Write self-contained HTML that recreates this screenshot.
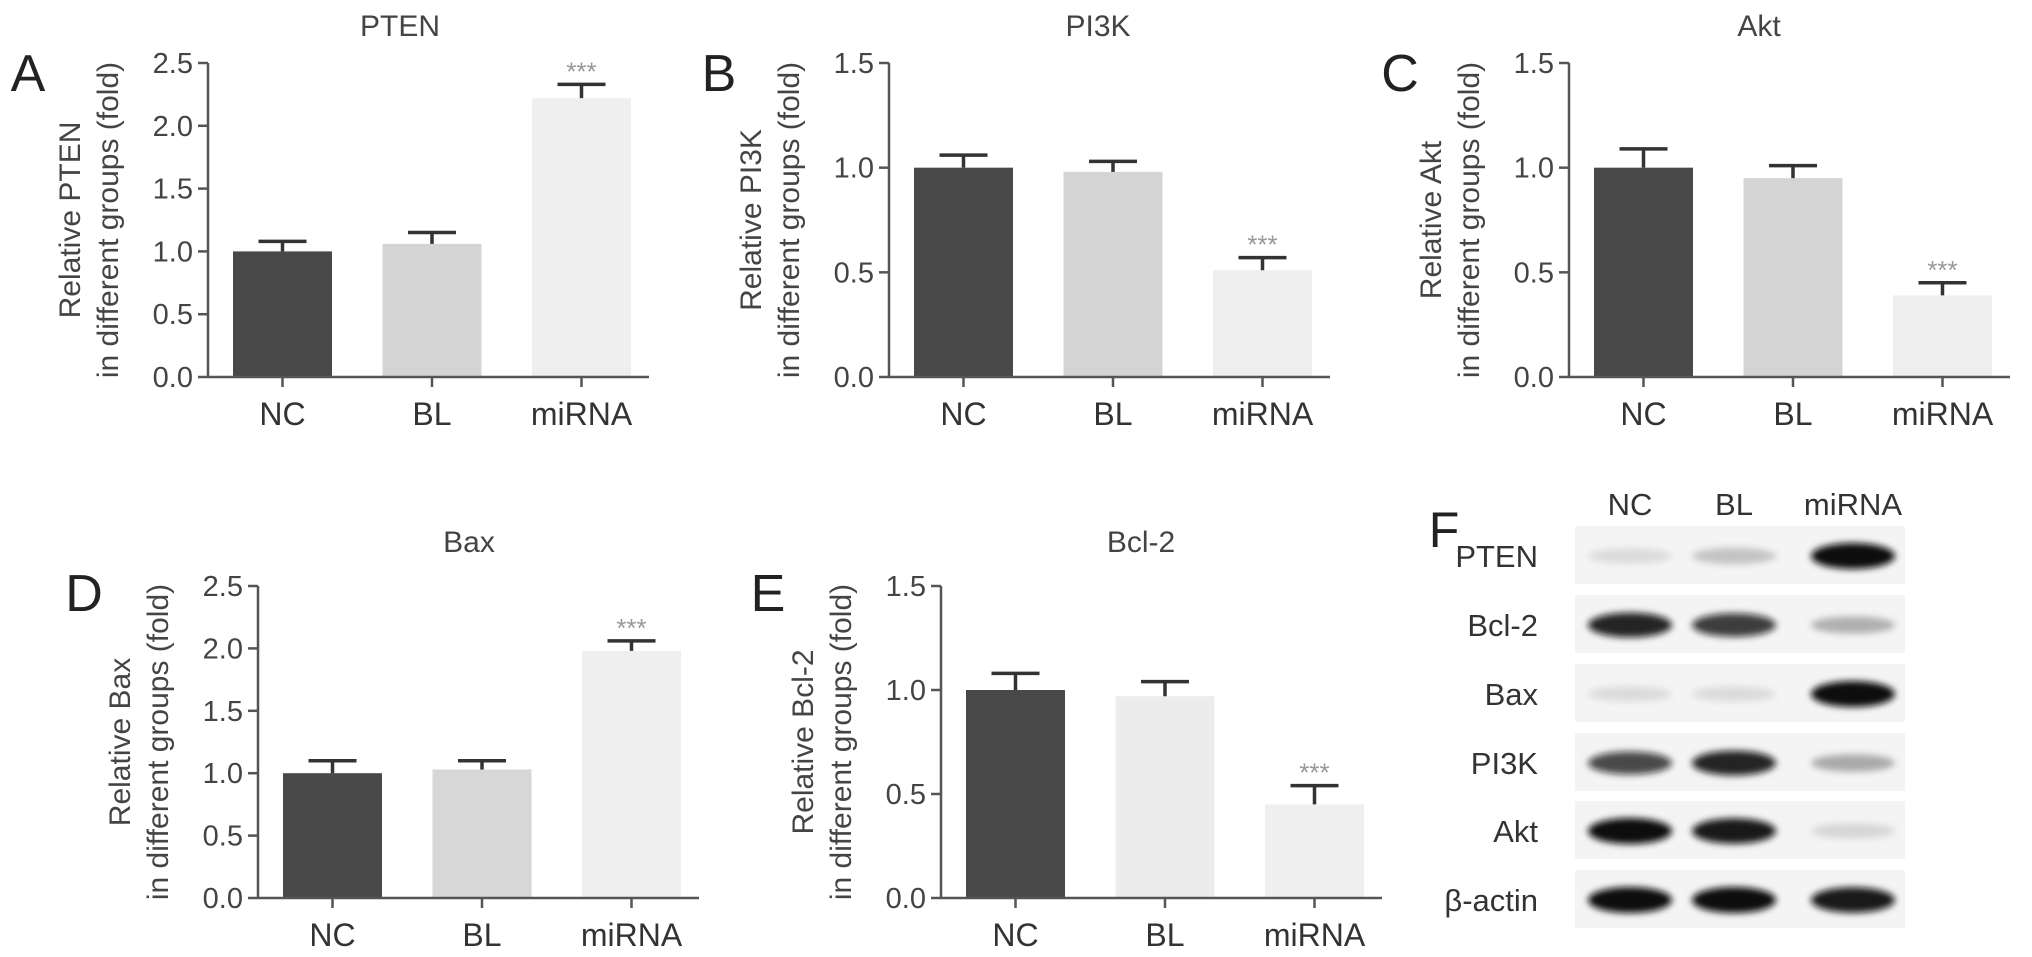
<!DOCTYPE html>
<html><head><meta charset="utf-8"><style>
html,body{margin:0;padding:0;background:#fff;}
svg{display:block;font-family:"Liberation Sans",sans-serif;}
</style></head><body>
<svg id="fig" width="2032" height="957" viewBox="0 0 2032 957" xmlns="http://www.w3.org/2000/svg">
<defs><filter id="blur" x="-20%" y="-100%" width="140%" height="300%"><feGaussianBlur stdDeviation="3.5"/></filter></defs>
</svg>
<script>
const categories = ["NC","BL","miRNA"];
const pTitles = ["PTEN","PI3K","Akt","Bax","Bcl-2"];
const pLetters = ["A","B","C","D","E"];
const pMeans = [[1.0,1.06,2.22],[1.0,0.98,0.51],[1.0,0.95,0.39],[1.0,1.03,1.98],[1.0,0.97,0.45]];
const pErrors = [[0.08,0.09,0.11],[0.06,0.05,0.06],[0.09,0.06,0.06],[0.1,0.07,0.08],[0.08,0.07,0.09]];
const pMax = [2.5,1.5,1.5,2.5,1.5];
const ticksA = ["0.0","0.5","1.0","1.5","2.0","2.5"];
const ticksB = ["0.0","0.5","1.0","1.5"];
const blotRows = ["PTEN","Bcl-2","Bax","PI3K","Akt","β-actin"];
const blotIntensity = [[0.1,0.2,1],[0.9,0.8,0.28],[0.1,0.1,1],[0.75,0.9,0.3],[1,0.95,0.12],[1,1,0.95]];

const NS="http://www.w3.org/2000/svg";
const svg=document.getElementById('fig');
function mk(tag,attrs,parent){const e=document.createElementNS(NS,tag);for(const k in attrs)e.setAttribute(k,attrs[k]);(parent||svg).appendChild(e);return e;}
function txt(s,attrs,parent){const e=mk('text',attrs,parent);e.textContent=s;return e;}

const layout=[
 {ax:208,top:63,bot:377,bar0:233,letX:28,letY:72,tx:400,ty:25},
 {ax:889,top:63,bot:377,bar0:914,letX:719,letY:72,tx:1098,ty:25},
 {ax:1569,top:63,bot:377,bar0:1594,letX:1400,letY:72,tx:1759,ty:25},
 {ax:258,top:586,bot:898,bar0:283,letX:84,letY:592,tx:469,ty:541},
 {ax:941,top:586,bot:898,bar0:966,letX:768,letY:592,tx:1141,ty:541}
];
const barColors=[["#484848","#d4d4d4","#efefef"],["#484848","#d4d4d4","#efefef"],["#484848","#d4d4d4","#efefef"],["#484848","#d7d7d7","#efefef"],["#484848","#ececec","#efefef"]];
const BW=99, STEP=149.5;

pMeans.forEach((vals,p)=>{
  const L=layout[p];
  const g=mk('g',{});
  
  
  const y=v=>L.bot-(v/pMax[p])*(L.bot-L.top);
  const x=i=>L.bar0+i*STEP;
  const t=txt(pLetters[p],{x:L.letX,y:L.letY+19,'font-size':52,fill:'#222','text-anchor':'middle'},g);
  
  
  const ti=txt(pTitles[p],{x:L.tx,y:L.ty+11,'font-size':30,fill:'#444','text-anchor':'middle'},g);
  
  
  const yt=mk('text',{transform:`translate(${L.ax-118},${(L.top+L.bot)/2}) rotate(-90)`,'font-size':30,fill:'#444','text-anchor':'middle'},g);
  
  
  const s1=mk('tspan',{x:0,dy:-10},yt);s1.textContent='Relative '+pTitles[p];
  const s2=mk('tspan',{x:0,dy:38},yt);s2.textContent='in different groups (fold)';
  vals.forEach((v,i)=>{
    const b=mk('rect',{x:x(i),y:y(v),width:BW,height:L.bot-y(v),fill:barColors[p][i]},g);
    
    
    const cx=x(i)+BW/2, ye=y(v+pErrors[p][i]);
    const eb=mk('path',{d:`M${cx} ${y(v)}V${ye}M${cx-24} ${ye}H${cx+24}`,stroke:'#333','stroke-width':3.5,fill:'none'},g);
    
    
    if(i===2){
      const st=txt('***',{x:cx,y:ye-4,'font-size':26,fill:'#999','text-anchor':'middle'},g);
      
      
    }
    const cl=txt(categories[i],{x:cx,y:L.bot+48,'font-size':32,fill:'#333','text-anchor':'middle'},g);
    
    
    mk('line',{x1:cx,x2:cx,y1:L.bot,y2:L.bot+10,stroke:'#555','stroke-width':2.5},g);
  });
  const ticks=pMax[p]>2?ticksA:ticksB;
  ticks.forEach(tl=>{
    const v=parseFloat(tl);
    mk('line',{x1:L.ax-10,x2:L.ax,y1:y(v),y2:y(v),stroke:'#555','stroke-width':2.5},g);
    const tt=txt(tl,{x:L.ax-15,y:y(v)+10,'font-size':29,fill:'#444','text-anchor':'end'},g);
    
    
  });
  const ya=mk('line',{x1:L.ax,x2:L.ax,y1:L.top,y2:L.bot,stroke:'#555','stroke-width':2.5},g);
  
  
  const xa=mk('line',{x1:L.ax,x2:L.bar0+2*STEP+BW+18,y1:L.bot,y2:L.bot,stroke:'#555','stroke-width':2.5},g);
  
  
});

// Panel F western blot
const gF=mk('g',{});


const fl=txt('F',{x:1444,y:547,'font-size':50,fill:'#222','text-anchor':'middle'},gF);


const laneX=[1630,1734,1853];
categories.forEach((c,i)=>{
  const h=txt(c,{x:laneX[i],y:515,'font-size':31,fill:'#333','text-anchor':'middle'},gF);
  
  
});
const rowY=[556,625,694,763,831,900];
blotRows.forEach((r,k)=>{
  const cy=rowY[k];
  const strip=mk('rect',{x:1575,y:cy-30,width:330,height:58,fill:'#f4f4f4'},gF);
  
  
  const rl=txt(r,{x:1538,y:cy+11,'font-size':31,fill:'#333','text-anchor':'end'},gF);
  
  
  blotIntensity[k].forEach((a,i)=>{
    const band=mk('ellipse',{cx:laneX[i],cy:cy,rx:42,ry:7+6*a,fill:'#111','fill-opacity':a,filter:'url(#blur)'},gF);
    
    
  });
});
</script>
</body></html>
